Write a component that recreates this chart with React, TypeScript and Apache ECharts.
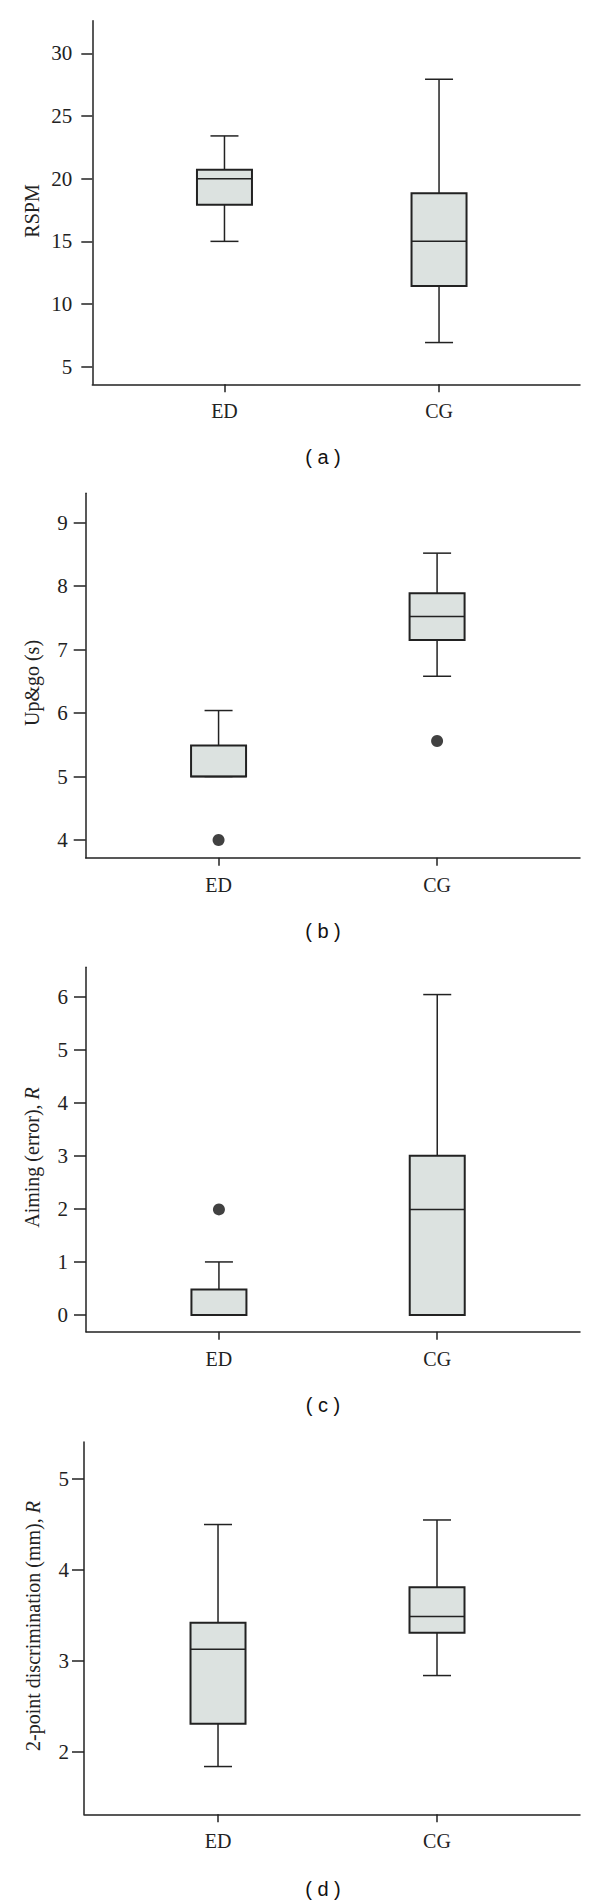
import React, { useEffect, useRef } from "react";
import * as echarts from "echarts";

// ---------- data ----------
const groups = ["ED", "CG"];

// [min, Q1, median, Q3, max] per group
const rspmBoxes = [
  [15, 17.92, 20, 20.71, 23.41],
  [6.93, 11.45, 15, 18.84, 27.93],
];
const rspmOutliers: number[][] = [];
const rspmTicks = [5, 10, 15, 20, 25, 30];

const upgoBoxes = [
  [5.0, 5.0, 5.0, 5.49, 6.04],
  [6.58, 7.15, 7.52, 7.89, 8.52],
];
const upgoOutliers = [
  [1, 4.0],
  [2, 5.56],
];
const upgoTicks = [4, 5, 6, 7, 8, 9];

const aimingBoxes = [
  [0, 0, 0, 0.48, 1.0],
  [0, 0, 1.99, 3.0, 6.04],
];
const aimingOutliers = [[1, 1.99]];
const aimingTicks = [0, 1, 2, 3, 4, 5, 6];

const twoPointBoxes = [
  [1.84, 2.31, 3.13, 3.42, 4.5],
  [2.84, 3.31, 3.49, 3.81, 4.55],
];
const twoPointOutliers: number[][] = [];
const twoPointTicks = [2, 3, 4, 5];

const yTitles = ["RSPM", "Up&go (s)", "Aiming (error), {i|R}", "2-point discrimination (mm), {i|R}"];
const captions = ["( a )", "( b )", "( c )", "( d )"];

// ---------- layout ----------
const SERIF = "'Liberation Serif', 'Times New Roman', serif";
const INK = "#222";
const FILL = "#dce2e0";

const panels = [
  { boxes: rspmBoxes, outliers: rspmOutliers, ticks: rspmTicks, left: 92.3, top: 20.7, bottom: 384.3, ymin: 3.6, ymax: 32.6, xmin: 0.384, xmax: 2.657, labelMargin: 20, tickLen: 11, titleX: 31.5, titleY: 211, capY: 457 },
  { boxes: upgoBoxes, outliers: upgoOutliers, ticks: upgoTicks, left: 85.7, top: 493.3, bottom: 857.7, ymin: 3.721, ymax: 9.463, xmin: 0.392, xmax: 2.654, labelMargin: 18, tickLen: 12, titleX: 32, titleY: 683, capY: 931 },
  { boxes: aimingBoxes, outliers: aimingOutliers, ticks: aimingTicks, left: 86, top: 967.3, bottom: 1331.7, ymin: -0.315, ymax: 6.554, xmin: 0.391, xmax: 2.654, labelMargin: 18, tickLen: 12, titleX: 32, titleY: 1157.5, capY: 1405 },
  { boxes: twoPointBoxes, outliers: twoPointOutliers, ticks: twoPointTicks, left: 84, top: 1442, bottom: 1814.3, ymin: 1.315, ymax: 5.407, xmin: 0.388, xmax: 2.653, labelMargin: 15, tickLen: 12, titleX: 32.5, titleY: 1626, capY: 1888.5 },
];
const RIGHT = 580;

function renderBox(params: any, api: any) {
  const x = api.value(0);
  const lo = api.coord([x, api.value(1)]);
  const q1 = api.coord([x, api.value(2)]);
  const md = api.coord([x, api.value(3)]);
  const q3 = api.coord([x, api.value(4)]);
  const hi = api.coord([x, api.value(5)]);
  const cx = lo[0];
  const bw = 55;
  const cw = 28;
  const ls = { stroke: INK, lineWidth: 1.5 };
  return {
    type: "group",
    children: [
      { type: "line", shape: { x1: cx, y1: hi[1], x2: cx, y2: q3[1] }, style: ls },
      { type: "line", shape: { x1: cx, y1: q1[1], x2: cx, y2: lo[1] }, style: ls },
      { type: "line", shape: { x1: cx - cw / 2, y1: hi[1], x2: cx + cw / 2, y2: hi[1] }, style: ls },
      { type: "line", shape: { x1: cx - cw / 2, y1: lo[1], x2: cx + cw / 2, y2: lo[1] }, style: ls },
      { type: "rect", shape: { x: cx - bw / 2, y: q3[1], width: bw, height: q1[1] - q3[1] }, style: { fill: FILL, stroke: INK, lineWidth: 2 } },
      { type: "line", shape: { x1: cx - bw / 2, y1: md[1], x2: cx + bw / 2, y2: md[1] }, style: ls },
    ],
  };
}

function buildOption() {
  const grid: any[] = [];
  const xAxis: any[] = [];
  const yAxis: any[] = [];
  const series: any[] = [];
  const graphic: any[] = [];

  panels.forEach((p, i) => {
    grid.push({
      left: p.left,
      top: p.top,
      width: RIGHT - p.left,
      height: p.bottom - p.top,
      containLabel: false,
      outerBoundsMode: "none",
    });
    xAxis.push({
      type: "value",
      gridIndex: i,
      min: p.xmin,
      max: p.xmax,
      splitLine: { show: false },
      axisLine: { show: true, onZero: false, lineStyle: { color: INK, width: 1.5 } },
      axisTick: { show: true, customValues: [1, 2], length: 8, lineStyle: { color: INK, width: 1.5 } },
      axisLabel: {
        customValues: [1, 2],
        formatter: (v: number) => groups[Math.round(v) - 1] || "",
        margin: 17,
        fontFamily: SERIF,
        fontSize: 20,
        color: INK,
      },
    });
    yAxis.push({
      type: "value",
      gridIndex: i,
      min: p.ymin,
      max: p.ymax,
      splitLine: { show: false },
      axisLine: { show: true, onZero: false, lineStyle: { color: INK, width: 1.5 } },
      axisTick: { show: true, customValues: p.ticks, length: p.tickLen, lineStyle: { color: INK, width: 1.5 } },
      axisLabel: {
        customValues: p.ticks,
        margin: p.labelMargin,
        fontFamily: SERIF,
        fontSize: 21,
        color: INK,
      },
    });
    series.push({
      type: "custom",
      xAxisIndex: i,
      yAxisIndex: i,
      renderItem: renderBox,
      encode: { x: 0, y: [1, 2, 3, 4, 5] },
      data: p.boxes.map((b, k) => [k + 1, ...b]),
      clip: false,
    });
    series.push({
      type: "scatter",
      xAxisIndex: i,
      yAxisIndex: i,
      symbol: "circle",
      symbolSize: 12,
      itemStyle: { color: "#111" },
      data: p.outliers,
    });
    graphic.push({
      type: "text",
      x: p.titleX,
      y: p.titleY,
      rotation: Math.PI / 2,
      style: {
        text: yTitles[i],
        fill: INK,
        fontFamily: SERIF,
        fontSize: 20,
        align: "center",
        verticalAlign: "middle",
        rich: { i: { fontStyle: "italic", fontFamily: SERIF, fontSize: 20, fill: INK } },
      },
    });
    graphic.push({
      type: "text",
      x: 323,
      y: p.capY,
      style: {
        text: captions[i],
        fill: "#111",
        fontFamily: "'Liberation Sans', Arial, sans-serif",
        fontSize: 20,
        align: "center",
        verticalAlign: "middle",
      },
    });
  });

  return { animation: false, backgroundColor: "#fff", grid, xAxis, yAxis, series, graphic };
}

export default function App() {
  const ref = useRef<HTMLDivElement>(null);
  useEffect(() => {
    if (!ref.current) return;
    const chart = echarts.init(ref.current, undefined, { renderer: "svg" });
    chart.setOption(buildOption() as any);
    return () => chart.dispose();
  }, []);
  return (
    <div
      ref={ref}
      style={{ position: "absolute", left: 0, top: 0, width: 600, height: 1903, background: "#fff" }}
    />
  );
}
